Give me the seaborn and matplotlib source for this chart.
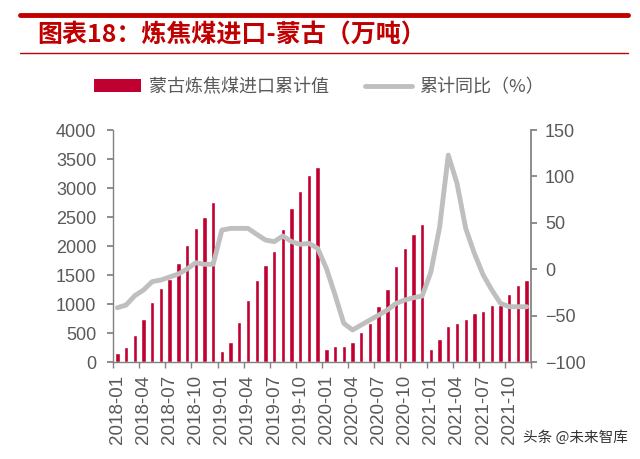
import numpy as np
import pandas as pd
import seaborn as sns
import matplotlib.pyplot as plt
from matplotlib.lines import Line2D
from matplotlib.patches import Patch

# monthly data, 2018-01 .. 2021-12
months = [f"{y}-{m:02d}" for y in range(2018, 2022) for m in range(1, 13)]
import_cum = [150, 253, 466, 741, 1034, 1281, 1431, 1701, 2017, 2305, 2505, 2753,
              195, 345, 690, 1063, 1408, 1672, 1914, 2288, 2655, 2948, 3224, 3367,
              224, 276, 276, 345, 517, 678, 960, 1259, 1650, 1966, 2212, 2384,
              224, 397, 621, 667, 741, 840, 884, 983, 983, 1178, 1328, 1409]
yoy_cum = [-41.5, -38.6, -28.5, -22.4, -13.4, -11.6, -8.4, -5.2, 0.2, 7, 5.3, 5.3,
           42.2, 44, 44, 44, 37.6, 31.5, 29.7, 35.8, 29.7, 26.8, 27.9, 22.5,
           1, -27.8, -58.3, -65.5, -60.1, -54.7, -49.4, -44, -36.8, -33.2, -30.7, -28.9,
           -3, 45, 123, 92.6, 44, 17, -6, -22.4, -36.8, -40.4, -40.4, -40.4]
tick_labels = months[::3]

df = pd.DataFrame({"month": months, "imports": import_cum,
                   "yoy": yoy_cum, "pos": np.arange(len(months))})

sns.set_theme(style="white")
plt.rcParams['font.family'] = ['Liberation Sans', 'Noto Sans CJK SC', 'DejaVu Sans']
cjk = ['Noto Sans CJK SC', 'DejaVu Sans']

bar_color = "#C00030"
line_color = "#BFBFBF"
axis_grey = "#808080"
text_grey = "#595959"

fig = plt.figure(figsize=(6.4, 4.59), dpi=100)
ax = fig.add_axes([0.1766, 0.2113, 0.6531, 0.5054])

sns.barplot(data=df, x="month", y="imports", color=bar_color, width=0.5,
            saturation=1, ax=ax)
ax.set_xlim(-0.5, len(months) - 0.5)
ax.set_ylim(0, 4000)
ax.set_yticks(range(0, 4001, 500))
ax.set_xlabel("")
ax.set_ylabel("")
ax.set_xticks(range(0, len(months), 3))
ax.set_xticklabels(tick_labels, rotation=90)
ax.set_xticks(np.arange(-0.5, len(months), 3), minor=True)
ax.tick_params(axis="x", which="major", length=0, pad=9, labelsize=13.5, labelcolor=text_grey)
ax.tick_params(axis="x", which="minor", length=4, color=axis_grey, direction="out", bottom=True)
ax.tick_params(axis="y", length=4, color=axis_grey, direction="out", left=True,
               pad=8, labelsize=13, labelcolor=text_grey)
for s in ["top", "right"]:
    ax.spines[s].set_visible(False)
for s in ["left", "bottom"]:
    ax.spines[s].set_color(axis_grey)
    ax.spines[s].set_linewidth(1)

ax2 = ax.twinx()
sns.lineplot(data=df, x="pos", y="yoy", color=line_color, linewidth=3.5, ax=ax2)
ax2.set_ylim(-100, 150)
ax2.set_yticks(range(-100, 151, 50))
ax2.set_ylabel("")
ax2.set_xlim(-0.5, len(months) - 0.5)
ax2.tick_params(axis="y", length=4, color=axis_grey, direction="out", right=True,
                pad=6, labelsize=13, labelcolor=text_grey)
for s in ["top", "left", "bottom"]:
    ax2.spines[s].set_visible(False)
ax2.spines["right"].set_color(axis_grey)

# header lines and title
fig.add_artist(Line2D([20 / 640, 628 / 640], [1 - 15 / 459] * 2, color="#C00000", lw=3.5))
fig.add_artist(Line2D([20 / 640, 628 / 640], [1 - 53 / 459] * 2, color="#C00000", lw=1))
fig.text(37 / 640, 1 - 35 / 459, "图表18：炼焦煤进口-蒙古（万吨）", family=cjk,
         fontsize=18, fontweight="bold", color="#C00000", va="center", ha="left")

handles = [Patch(facecolor=bar_color, edgecolor="none"),
           Line2D([0], [0], color=line_color, lw=3.5)]
fig.legend(handles, ["蒙古炼焦煤进口累计值", "累计同比（%）"],
           loc="center", bbox_to_anchor=(319 / 640, 1 - 87 / 459), ncol=2, frameon=False,
           prop={"family": cjk, "size": 13}, labelcolor=text_grey,
           handlelength=2.6, handleheight=0.7, columnspacing=2.0, handletextpad=0.4)

fig.text(628 / 640, 1 - 438 / 459, "头条 @未来智库", family=cjk, fontsize=10.5,
         color="#333333", ha="right", va="center")

fig.savefig("out.png", dpi=100)
